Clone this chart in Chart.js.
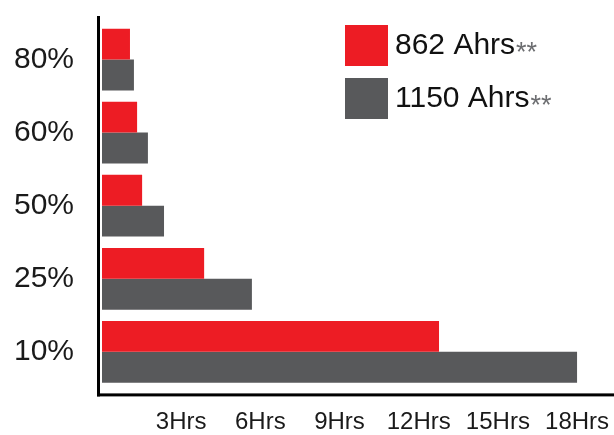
<!DOCTYPE html>
<html>
<head>
<meta charset="utf-8">
<script src="https://cdn.jsdelivr.net/npm/chart.js@4.4.1/dist/chart.umd.min.js"></script>
<style>
  html, body { margin: 0; padding: 0; background: #fff; }
  #wrap { width: 614px; height: 435px; position: relative; }
</style>
</head>
<body>
<div id="wrap"><canvas id="grafico"></canvas></div>
<script>
// --- DATOS ---
const categorias = ['80%', '60%', '50%', '25%', '10%'];
const series = ['862 Ahrs', '1150 Ahrs'];
const valores862 = [1.06, 1.33, 1.52, 3.87, 12.77];
const valores1150 = [1.21, 1.74, 2.35, 5.68, 18.0];
const marcasHoras = [3, 6, 9, 12, 15, 18];

const ROJO = '#ed1c24';
const GRIS = '#58595b';
const FUENTE = '"Liberation Sans", Arial, sans-serif';

// --- EJES NEGROS (un poco fuera del area del grafico) ---
const ejesNegros = {
  id: 'ejesNegros',
  afterDatasetsDraw(chart) {
    const { ctx, chartArea } = chart;
    ctx.save();
    ctx.fillStyle = '#000';
    ctx.fillRect(chartArea.left - 5, chartArea.top - 7, 3, chartArea.bottom - chartArea.top + 15);
    ctx.fillRect(chartArea.left - 5, chartArea.bottom + 5, chart.width - chartArea.left + 5, 3);
    ctx.restore();
  }
};

// --- LEYENDA (con los asteriscos en gris) ---
const leyenda = {
  id: 'leyenda',
  afterDraw(chart) {
    const { ctx } = chart;
    ctx.save();
    chart.data.datasets.forEach((ds, i) => {
      const y = 25 + i * 53;
      ctx.fillStyle = ds.backgroundColor;
      ctx.fillRect(345, y, 43, 41);
      ctx.textBaseline = 'alphabetic';
      ctx.textAlign = 'left';
      ctx.font = '30px ' + FUENTE;
      ctx.fillStyle = '#111';
      ctx.fillText(ds.label, 395, y + 29);
      const w = ctx.measureText(ds.label).width;
      ctx.font = '27px ' + FUENTE;
      ctx.fillStyle = '#6d6e71';
      ctx.fillText('**', 395 + w + 1, y + 36);
    });
    ctx.restore();
  }
};

// sin el relleno extra que Chart.js deja para las etiquetas de los extremos
function sinRelleno(s) {
  s.paddingTop = 0;
  s.paddingBottom = 0;
  s.paddingLeft = 0;
  s.paddingRight = 0;
}

new Chart(document.getElementById('grafico'), {
  type: 'bar',
  data: {
    labels: categorias,
    datasets: [
      { label: series[0], data: valores862, backgroundColor: ROJO },
      { label: series[1], data: valores1150, backgroundColor: GRIS }
    ]
  },
  options: {
    indexAxis: 'y',
    responsive: true,
    maintainAspectRatio: false,
    animation: false,
    layout: { padding: { top: 23, right: 0, bottom: 0, left: 0 } },
    datasets: { bar: { barPercentage: 1, categoryPercentage: 0.845 } },
    plugins: { legend: { display: false }, tooltip: { enabled: false } },
    scales: {
      x: {
        min: 0,
        max: 19.4,
        afterBuildTicks: s => { s.ticks = marcasHoras.map(v => ({ value: v })); },
        afterFit: s => { s.height = 46.6; sinRelleno(s); },
        grid: { display: false, drawTicks: false },
        border: { display: false },
        ticks: {
          callback: v => v + 'Hrs',
          padding: 20,
          color: '#1a1a1a',
          font: { family: FUENTE, size: 24 },
          maxRotation: 0,
          autoSkip: false
        }
      },
      y: {
        afterFit: s => { s.width = 102; sinRelleno(s); },
        grid: { display: false, drawTicks: false },
        border: { display: false },
        ticks: { padding: 28, color: '#1a1a1a', font: { family: FUENTE, size: 30 } }
      }
    }
  },
  plugins: [ejesNegros, leyenda]
});
</script>
</body>
</html>
